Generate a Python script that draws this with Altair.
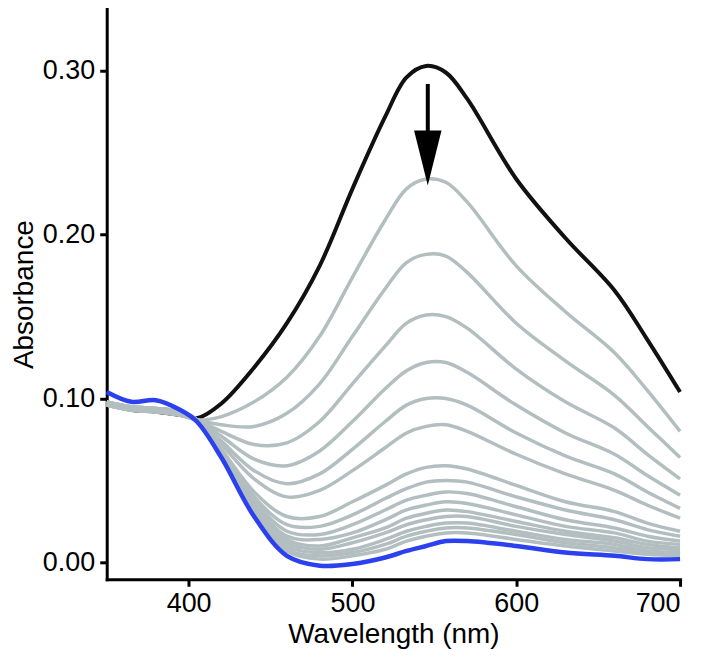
import altair as alt
import pandas as pd

wavelength = [350, 365, 380, 395, 405, 420, 440, 460, 480, 500, 520, 533, 545, 557, 570, 600, 630, 660, 680, 700]

black_abs = [0.097, 0.093, 0.092, 0.090, 0.088, 0.097, 0.119, 0.146, 0.181, 0.228, 0.272, 0.296, 0.303, 0.299, 0.283, 0.234, 0.198, 0.166, 0.136, 0.104]
blue_abs = [0.104, 0.098, 0.099, 0.093, 0.086, 0.064, 0.028, 0.004, -0.002, -0.001, 0.003, 0.007, 0.010, 0.013, 0.013, 0.010, 0.006, 0.004, 0.002, 0.002]

gray_1 = [0.096, 0.093, 0.092, 0.090, 0.087, 0.089, 0.098, 0.113, 0.138, 0.174, 0.209, 0.228, 0.234, 0.232, 0.220, 0.181, 0.153, 0.128, 0.105, 0.080]
gray_2 = [0.096, 0.093, 0.092, 0.090, 0.087, 0.084, 0.083, 0.091, 0.109, 0.138, 0.167, 0.183, 0.188, 0.187, 0.177, 0.146, 0.123, 0.102, 0.083, 0.064]
gray_3 = [0.096, 0.093, 0.092, 0.090, 0.087, 0.080, 0.072, 0.073, 0.086, 0.109, 0.132, 0.146, 0.151, 0.150, 0.143, 0.118, 0.098, 0.082, 0.066, 0.051]
gray_4 = [0.096, 0.093, 0.092, 0.090, 0.087, 0.077, 0.063, 0.059, 0.068, 0.086, 0.106, 0.117, 0.122, 0.122, 0.116, 0.096, 0.079, 0.066, 0.053, 0.041]
gray_5 = [0.096, 0.093, 0.092, 0.090, 0.087, 0.074, 0.056, 0.048, 0.054, 0.069, 0.086, 0.096, 0.100, 0.100, 0.096, 0.079, 0.065, 0.054, 0.043, 0.033]
gray_6 = [0.097, 0.094, 0.093, 0.091, 0.087, 0.072, 0.051, 0.040, 0.044, 0.056, 0.070, 0.079, 0.083, 0.084, 0.080, 0.066, 0.054, 0.044, 0.035, 0.027]
gray_7 = [0.097, 0.094, 0.093, 0.091, 0.087, 0.069, 0.043, 0.028, 0.028, 0.037, 0.047, 0.054, 0.058, 0.059, 0.057, 0.047, 0.037, 0.031, 0.024, 0.019]
gray_8 = [0.097, 0.094, 0.093, 0.091, 0.087, 0.068, 0.040, 0.023, 0.022, 0.029, 0.039, 0.045, 0.049, 0.050, 0.049, 0.040, 0.032, 0.026, 0.020, 0.016]
gray_9 = [0.097, 0.094, 0.093, 0.091, 0.087, 0.067, 0.038, 0.019, 0.017, 0.023, 0.032, 0.038, 0.041, 0.043, 0.042, 0.034, 0.026, 0.021, 0.016, 0.013]
gray_10 = [0.097, 0.094, 0.093, 0.091, 0.087, 0.067, 0.036, 0.016, 0.014, 0.018, 0.026, 0.032, 0.035, 0.037, 0.036, 0.029, 0.022, 0.018, 0.013, 0.011]
gray_11 = [0.098, 0.095, 0.094, 0.092, 0.087, 0.066, 0.034, 0.014, 0.010, 0.015, 0.021, 0.027, 0.030, 0.032, 0.031, 0.025, 0.019, 0.015, 0.011, 0.009]
gray_12 = [0.098, 0.095, 0.094, 0.092, 0.087, 0.066, 0.033, 0.012, 0.008, 0.012, 0.018, 0.023, 0.026, 0.028, 0.028, 0.022, 0.017, 0.013, 0.009, 0.008]
gray_13 = [0.098, 0.095, 0.094, 0.092, 0.087, 0.065, 0.032, 0.010, 0.006, 0.008, 0.014, 0.019, 0.022, 0.024, 0.024, 0.019, 0.014, 0.011, 0.007, 0.006]
gray_14 = [0.098, 0.095, 0.094, 0.092, 0.087, 0.065, 0.031, 0.008, 0.004, 0.006, 0.011, 0.016, 0.019, 0.021, 0.021, 0.017, 0.012, 0.009, 0.006, 0.005]
gray_15 = [0.098, 0.095, 0.094, 0.092, 0.087, 0.065, 0.030, 0.007, 0.002, 0.004, 0.008, 0.013, 0.016, 0.018, 0.018, 0.014, 0.010, 0.007, 0.005, 0.004]

gray_spectra = [gray_1, gray_2, gray_3, gray_4, gray_5, gray_6, gray_7, gray_8,
                gray_9, gray_10, gray_11, gray_12, gray_13, gray_14, gray_15]

# arrow annotation (data coordinates)
arrow_x = [546]
arrow_top = [0.292]
arrow_shaft_end = [0.256]
arrow_head_center = [0.2468]

black_df = pd.DataFrame({"wl": wavelength, "A": black_abs})
blue_df = pd.DataFrame({"wl": wavelength, "A": blue_abs})
gray_rows = []
for i, spec in enumerate(gray_spectra):
    for w, a in zip(wavelength, spec):
        gray_rows.append({"wl": w, "A": a, "curve": f"t{i + 1}"})
gray_df = pd.DataFrame(gray_rows)
arrow_df = pd.DataFrame({"wl": arrow_x, "top": arrow_top, "end": arrow_shaft_end, "head": arrow_head_center})

xscale = alt.Scale(domain=[350, 700], nice=False, zero=False)
yscale = alt.Scale(domain=[-0.0103, 0.3378], nice=False, zero=False)

xenc = alt.X("wl:Q", scale=xscale,
             axis=alt.Axis(values=[400, 500, 600, 700], title="Wavelength (nm)",
                           labelPadding=4, titlePadding=4))
yenc = alt.Y("A:Q", scale=yscale,
             axis=alt.Axis(values=[0, 0.1, 0.2, 0.3], format=".2f", title="Absorbance",
                           labelPadding=5, titlePadding=4))

interp = "catmull-rom"
black_line = alt.Chart(black_df).mark_line(color="#111111", strokeWidth=4, interpolate=interp).encode(
    x=xenc, y=yenc)
gray_lines = alt.Chart(gray_df).mark_line(color="#b3bec0", strokeWidth=3.5, interpolate=interp).encode(
    x=xenc, y=yenc, detail="curve:N")
blue_line = alt.Chart(blue_df).mark_line(color="#2b40ee", strokeWidth=4.5, interpolate=interp).encode(
    x=xenc, y=yenc)

shaft = alt.Chart(arrow_df).mark_rule(color="black", strokeWidth=4).encode(
    x="wl:Q", y=alt.Y("top:Q", scale=yscale), y2="end:Q")
head = alt.Chart(arrow_df).mark_point(
    shape="M-0.5,-1L0.5,-1L0,1Z", size=3025, filled=True, color="black", opacity=1, strokeWidth=0
).encode(x="wl:Q", y=alt.Y("head:Q", scale=yscale))

chart = alt.layer(black_line, gray_lines, blue_line, shaft, head).properties(
    width=575, height=572,
    autosize=alt.AutoSizeParams(type="none"),
    padding={"left": 99, "top": 0, "right": 20, "bottom": 70},
).configure_view(stroke=None).configure_axis(
    grid=False,
    domainColor="black", domainWidth=3, domainCap="square",
    tickColor="black", tickWidth=3, tickSize=7,
    labelFont="Liberation Sans", labelFontSize=27, labelColor="black",
    titleFont="Liberation Sans", titleFontSize=28, titleFontWeight="normal", titleColor="black",
)

chart.save("out.html", embed_options={"renderer": "svg", "actions": False})
